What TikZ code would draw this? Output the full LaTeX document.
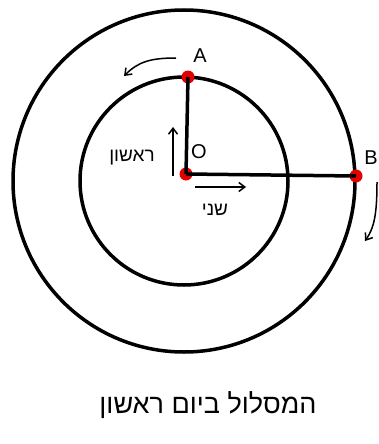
\documentclass[tikz,border=0pt]{standalone}
\usepackage{fontspec}
\setmainfont{Liberation Sans}
\newfontfamily\hebfont[Script=Hebrew]{Liberation Sans}
\TeXXeTstate=1
\usetikzlibrary{arrows.meta}
\begin{document}
\begin{tikzpicture}[x=1pt,y=-1pt,
  orbit/.style={draw=black,line width=3.5pt},
  radius line/.style={draw=black,line width=3.5pt},
  dot/.style={circle,fill=red!90!black,inner sep=0pt,minimum size=13pt},
  lbl/.style={font=\fontsize{20}{22}\selectfont},
  heb/.style={font=\hebfont\fontsize{19}{21}\selectfont},
  motion/.style={draw=black,line width=1.5pt,-{Straight Barb[length=6pt,width=9pt]}}]
\useasboundingbox[fill=white] (0,0) rectangle (379,444);
\coordinate (C) at (184,181);
\draw[orbit] (C) circle[radius=171];
\draw[orbit] (C) circle[radius=104];
\node[dot] (O) at (186,174) {};
\node[dot] (A) at (188,77) {};
\node[dot] (B) at (356,176) {};
\draw[radius line] (O.center) -- (A.center);
\draw[radius line] (O.center) -- (B.center);
\node[lbl] (la) at (200,56) {A};
\node[lbl] (lo) at (199,152) {O};
\node[lbl] (lb) at (371,158) {B};
\coordinate (up1) at (173,176);
\coordinate (up2) at (173,127);
\draw[motion] (up1) -- (up2);
\coordinate (r1) at (195,187);
\coordinate (r2) at (246,187);
\draw[motion] (r1) -- (r2);
\node[heb] (first) at (132,158) {\beginR ראשון\endR};
\node[heb] (second) at (215,210) {\beginR שני\endR};
\coordinate (a1) at (176,58);
\coordinate (a2) at (124,76);
\draw[motion] (a1) .. controls (150,58) and (138,62) .. (a2);
\coordinate (b1) at (377,182);
\coordinate (b2) at (365,241);
\draw[motion] (b1) .. controls (377,215) and (374,228) .. (b2);
\node[heb,font=\hebfont\fontsize{27}{29}\selectfont] (title) at (208,405) {\beginR המסלול ביום ראשון\endR};
\end{tikzpicture}
\end{document}
